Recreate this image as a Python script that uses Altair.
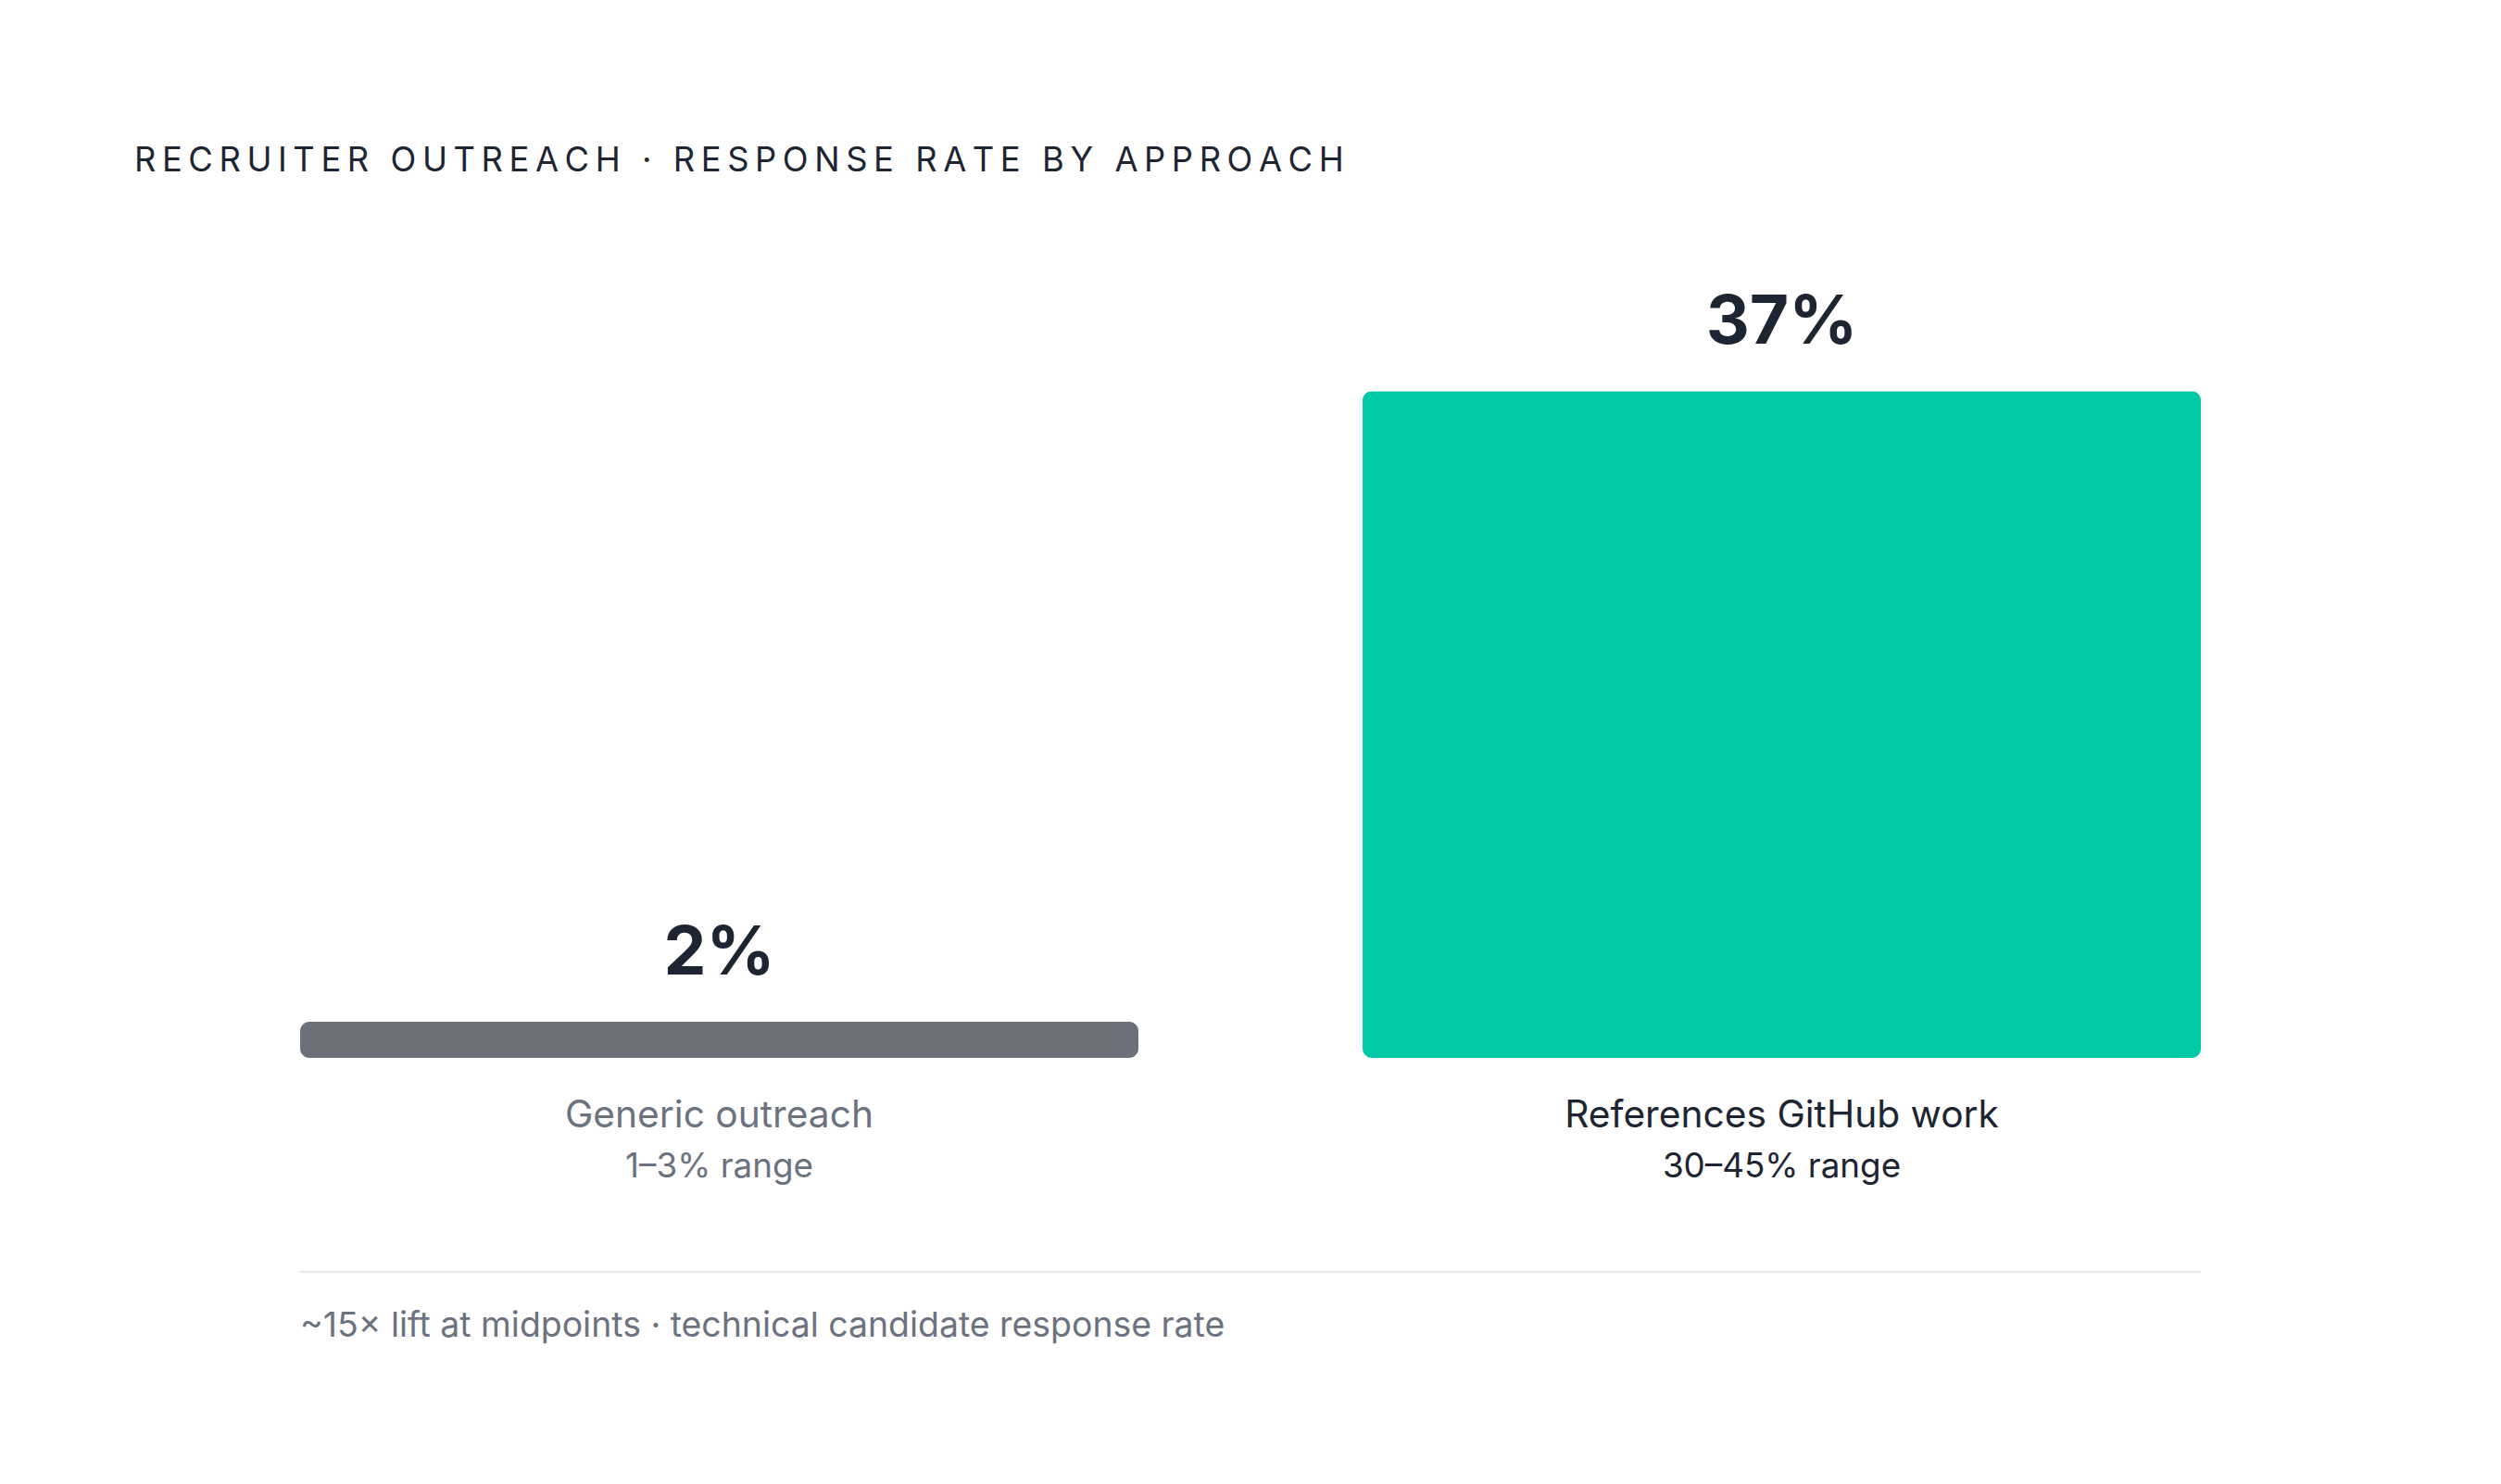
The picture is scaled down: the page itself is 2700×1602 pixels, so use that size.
import altair as alt
import pandas as pd

# ---- data ----
categories = ["Generic outreach", "References GitHub work"]
values = [2, 37]
value_labels = ["2%", "37%"]
range_labels = ["1–3% range", "30–45% range"]
bar_colors = ["#6b7079", "#00c9a7"]
name_colors = ["#6b7280", "#1e2532"]
range_colors = ["#6b7280", "#1e2532"]
title_text = "RECRUITER OUTREACH · RESPONSE RATE BY APPROACH"
footer_text = "~15× lift at midpoints · technical candidate response rate"

df = pd.DataFrame({
    "category": categories,
    "value": values,
    "vlabel": value_labels,
    "range": range_labels,
    "bar_color": bar_colors,
    "name_color": name_colors,
    "range_color": range_colors,
})
footer_df = pd.DataFrame({"t": [footer_text]})

W, H = 2052, 778
FONT = "Inter"
DARK = "#1e2532"

# tracked title (thin spaces between letters emulate letter spacing)
spaced_title = "\u2009".join(list(title_text))

x = alt.X("category:N", sort=categories, axis=None,
          scale=alt.Scale(paddingInner=0.211, paddingOuter=0))
y = alt.Y("value:Q", axis=None, scale=alt.Scale(domain=[0, 40]))

base = alt.Chart(df)

bars = base.mark_bar(cornerRadius=10).encode(
    x=x, y=y, color=alt.Color("bar_color:N", scale=None, legend=None)
)

vlabels = base.mark_text(font=FONT, fontSize=73, fontWeight="bold",
                         baseline="alphabetic", dy=-51, color=DARK).encode(
    x=x, y=y, text="vlabel:N"
)

names = base.mark_text(font=FONT, fontSize=40.7, baseline="alphabetic", dy=75).encode(
    x=x, y=alt.datum(0), text="category:N",
    color=alt.Color("name_color:N", scale=None, legend=None)
)

ranges = base.mark_text(font=FONT, fontSize=36.8, baseline="alphabetic", dy=129).encode(
    x=x, y=alt.datum(0), text="range:N",
    color=alt.Color("range_color:N", scale=None, legend=None)
)

rule = base.mark_rule(color="#e5e7eb", strokeWidth=2, yOffset=231).encode(
    y=alt.datum(0)
)

footer = alt.Chart(footer_df).mark_text(
    font=FONT, fontSize=37.4, baseline="alphabetic", align="left", dy=301,
    color="#6b7280"
).encode(x=alt.value(0), y=alt.datum(0), text="t:N")

chart = alt.layer(bars, vlabels, names, ranges, rule, footer).properties(
    width=W, height=H,
    title=alt.TitleParams(
        text=spaced_title, anchor="start", font=FONT, fontSize=36.3,
        fontWeight="normal", color=DARK, dx=-178, offset=92,
        baseline="alphabetic",
    ),
    autosize=alt.AutoSizeParams(type="none"),
    padding={"left": 324, "top": 364, "right": 324, "bottom": 460},
    background="white",
).configure_view(stroke=None)

chart.save("out.html", embed_options={"renderer": "svg", "actions": False})
